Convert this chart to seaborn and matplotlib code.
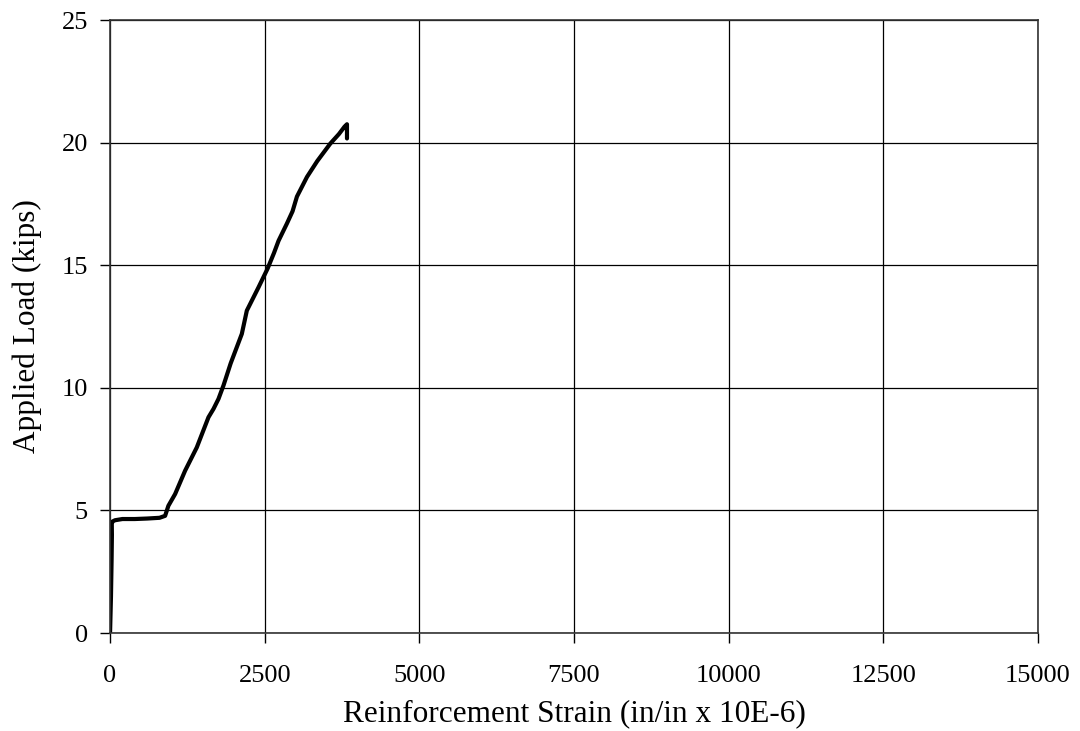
import matplotlib
matplotlib.use("Agg")
import matplotlib.pyplot as plt
import seaborn as sns
import pandas as pd

strain = [0, 15, 25, 30, 28, 40, 80, 200, 400, 600, 800, 890, 943, 1052, 1213,
          1402, 1591, 1672, 1753, 1834, 1950, 2130, 2211, 2400, 2546, 2650, 2724,
          2859, 2950, 3021, 3183, 3350, 3560, 3700, 3790, 3830, 3830]
load = [0, 1.5, 3.0, 4.0, 4.45, 4.55, 4.6, 4.65, 4.65, 4.67, 4.7, 4.78, 5.19, 5.67,
        6.62, 7.57, 8.8, 9.14, 9.55, 10.1, 11.0, 12.2, 13.15, 14.1, 14.86, 15.5, 16.0,
        16.7, 17.2, 17.8, 18.6, 19.25, 19.96, 20.35, 20.65, 20.75, 20.17]

x_ticks = [0, 2500, 5000, 7500, 10000, 12500, 15000]
y_ticks = [0, 5, 10, 15, 20, 25]

df = pd.DataFrame({"strain": strain, "load": load})

sns.set_theme(style="white")
plt.rcParams['font.family'] = ['Liberation Serif', 'DejaVu Serif']

fig = plt.figure(figsize=(10.8, 7.31), dpi=100)
ax = fig.add_axes([0.1019, 0.134, 0.8592, 0.8386])

sns.lineplot(data=df, x="strain", y="load", ax=ax, color="black", linewidth=3,
             sort=False, estimator=None)

ax.set_xlim(0, 15000)
ax.set_ylim(0, 25)
ax.set_xticks(x_ticks)
ax.set_yticks(y_ticks)
ax.set_xticklabels([str(t) for t in x_ticks])
ax.set_yticklabels([str(t) for t in y_ticks])
ax.grid(True, color="black", linewidth=0.9)
ax.set_axisbelow(True)
for s in ax.spines.values():
    s.set_color("#333333")
    s.set_linewidth(1.2)
ax.tick_params(axis="both", direction="out", length=7, width=1, color="black",
               labelsize=19, labelcolor="black", bottom=True, left=True)
ax.tick_params(axis="y", pad=9)
ax.tick_params(axis="x", pad=16)
ax.set_xlabel("Reinforcement Strain (in/in x 10E-6)", fontsize=22.5, color="black", labelpad=9)
ax.set_ylabel("Applied Load (kips)", fontsize=22.5, color="black", labelpad=14)

fig.savefig("out.png", dpi=100, facecolor="white")
